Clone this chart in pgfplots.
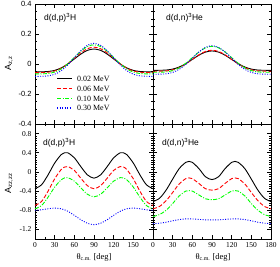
\documentclass[border=0pt]{standalone}
\usepackage{fontspec}
\setmainfont{Liberation Serif}
\setsansfont{Liberation Sans}
\usepackage{pgfplots}
\usepackage{pgfplotstable}
\pgfplotsset{compat=1.18}

\pgfplotstableread{
th k r g b
0 -0.052 -0.057 -0.066 -0.082
10 -0.0519 -0.0568 -0.0658 -0.0818
20 -0.0499 -0.0547 -0.0633 -0.0790
30 -0.0425 -0.0464 -0.0539 -0.0683
40 -0.0261 -0.0282 -0.0329 -0.0444
50 0.0004 0.0012 0.0008 -0.0062
60 0.0335 0.0381 0.0431 0.0418
70 0.0665 0.0748 0.0853 0.0895
80 0.0910 0.1020 0.1165 0.1249
90 0.100 0.112 0.128 0.138
100 0.0910 0.1020 0.1165 0.1249
110 0.0665 0.0748 0.0853 0.0895
120 0.0335 0.0381 0.0431 0.0418
130 0.0004 0.0012 0.0008 -0.0062
140 -0.0261 -0.0282 -0.0329 -0.0444
150 -0.0425 -0.0464 -0.0539 -0.0683
160 -0.0499 -0.0547 -0.0633 -0.0790
170 -0.0519 -0.0568 -0.0658 -0.0818
180 -0.052 -0.057 -0.066 -0.082
}\tabTL

\pgfplotstableread{
th k r g b
0 -0.042 -0.048 -0.055 -0.068
10 -0.0419 -0.0479 -0.0548 -0.0678
20 -0.0402 -0.0461 -0.0526 -0.0654
30 -0.0339 -0.0393 -0.0442 -0.0561
40 -0.0200 -0.0241 -0.0255 -0.0356
50 0.0024 0.0002 0.0046 -0.0026
60 0.0306 0.0308 0.0423 0.0389
70 0.0586 0.0612 0.0799 0.0801
80 0.0793 0.0837 0.1077 0.1107
90 0.087 0.092 0.118 0.122
100 0.0793 0.0837 0.1077 0.1107
110 0.0586 0.0612 0.0799 0.0801
120 0.0306 0.0308 0.0423 0.0389
130 0.0024 0.0002 0.0046 -0.0026
140 -0.0200 -0.0241 -0.0255 -0.0356
150 -0.0339 -0.0393 -0.0442 -0.0561
160 -0.0402 -0.0461 -0.0526 -0.0654
170 -0.0419 -0.0479 -0.0548 -0.0678
180 -0.042 -0.048 -0.055 -0.068
}\tabTR

\pgfplotstableread{
th k r g b
0 -0.35 -0.70 -0.77 -0.80
10 -0.2685 -0.6163 -0.7017 -0.7903
20 -0.0599 -0.4009 -0.5259 -0.769
30 0.185 -0.1438 -0.3175 -0.755
40 0.3616 0.0508 -0.1624 -0.7688
45 0.40 0.10 -0.125 -0.79
50 0.3998 0.1116 -0.119 -0.8208
60 0.295 0.0313 -0.1925 -0.905
70 0.1087 -0.1327 -0.3343 -0.9988
80 -0.0617 -0.2875 -0.4667 -1.0723
90 -0.13 -0.35 -0.52 -1.10
100 -0.0617 -0.2875 -0.4667 -1.0723
110 0.1087 -0.1327 -0.3343 -0.9988
120 0.295 0.0313 -0.1925 -0.905
130 0.3998 0.1116 -0.119 -0.8208
135 0.40 0.10 -0.125 -0.79
140 0.3616 0.0508 -0.1624 -0.7688
150 0.185 -0.1438 -0.3175 -0.755
160 -0.0599 -0.4009 -0.5259 -0.769
170 -0.2685 -0.6163 -0.7017 -0.7903
180 -0.35 -0.70 -0.77 -0.80
}\tabBL

\pgfplotstableread{
th k r g b
0 -0.62 -0.77 -0.93 -1.08
10 -0.55 -0.72 -0.89 -1.07
20 -0.38 -0.60 -0.80 -1.05
30 -0.15 -0.43 -0.66 -1.02
40 0.07 -0.25 -0.50 -0.995
50 0.20 -0.14 -0.40 -0.98
55 0.22 -0.125 -0.39 -0.98
60 0.20 -0.14 -0.40 -0.982
70 0.07 -0.24 -0.48 -0.99
80 -0.10 -0.35 -0.56 -1.0
90 -0.16 -0.38 -0.58 -1.0
100 -0.10 -0.35 -0.56 -1.0
110 0.07 -0.24 -0.48 -0.99
120 0.20 -0.14 -0.40 -0.982
125 0.22 -0.125 -0.39 -0.98
130 0.20 -0.14 -0.40 -0.98
140 0.07 -0.25 -0.50 -0.995
150 -0.15 -0.43 -0.66 -1.02
160 -0.38 -0.60 -0.80 -1.05
170 -0.55 -0.72 -0.89 -1.07
180 -0.62 -0.77 -0.93 -1.08
}\tabBR

\tikzset{
  lk/.style={black, line width=0.9bp},
  lr/.style={red, line width=0.9bp, dash pattern=on 4bp off 2bp},
  lg/.style={green, line width=0.9bp, dash pattern=on 4bp off 1.5bp on 1bp off 1.5bp},
  lb/.style={blue, line width=0.9bp, dash pattern=on 1bp off 1.5bp},
}

\pgfplotsset{
  panel/.style={
    scale only axis, width=118bp, anchor=south west,
    xmin=0, xmax=180, xtick={0,30,...,180}, minor x tick num=1,
    tick align=inside, xtick pos=both, ytick pos=both,
    major tick length=4bp, minor tick length=2bp,
    axis line style={line width=0.8bp},
    every tick/.style={black, line width=0.6bp},
    tick label style={font=\fontsize{7.5}{8}\selectfont},
    /pgf/number format/assume math mode=true,
    /pgf/number format/fixed,
  },
  toprow/.style={height=120bp, ymin=-0.4, ymax=0.4, ytick={-0.4,-0.2,...,0.4}, minor y tick num=3, xticklabels=\empty,
    yticklabel style={font=\sffamily\fontsize{7.5}{8}\selectfont}},
  botrow/.style={height=115bp, ymin=-1.4, ymax=1.0, ytick={-1.2,-0.8,...,0.8}, minor y tick num=7},
  sk/.style={lk, smooth},
  sr/.style={lr, smooth},
  sg/.style={lg, smooth},
  sb/.style={lb, smooth},
}

\begin{document}
\begin{tikzpicture}
\path[use as bounding box] (0,0) rectangle (280bp,267bp);

% top-left
\begin{axis}[panel, toprow, at={(35bp,143bp)}]
\addplot[sk] table[x=th,y=k] {\tabTL};
\addplot[sr] table[x=th,y=r] {\tabTL};
\addplot[sg] table[x=th,y=g] {\tabTL};
\addplot[sb] table[x=th,y=b] {\tabTL};
% legend samples
\addplot[lk, line width=1.1bp] coordinates {(33.6,-0.0967) (56.4,-0.0967)};
\addplot[lr, line width=1.1bp] coordinates {(33.6,-0.1633) (56.4,-0.1633)};
\addplot[lg, line width=1.1bp] coordinates {(33.6,-0.2300) (56.4,-0.2300)};
\addplot[lb, line width=1.1bp] coordinates {(33.6,-0.2933) (56.4,-0.2933)};
\end{axis}

% top-right
\begin{axis}[panel, toprow, at={(153bp,143bp)}, yticklabels=\empty]
\addplot[sk] table[x=th,y=k] {\tabTR};
\addplot[sr] table[x=th,y=r] {\tabTR};
\addplot[sg] table[x=th,y=g] {\tabTR};
\addplot[sb] table[x=th,y=b] {\tabTR};
\end{axis}

% bottom-left
\begin{axis}[panel, botrow, at={(35bp,28bp)}, xticklabels={0,30,60,90,120,150,{}}]
\addplot[sk] table[x=th,y=k] {\tabBL};
\addplot[sr] table[x=th,y=r] {\tabBL};
\addplot[sg] table[x=th,y=g] {\tabBL};
\addplot[sb] table[x=th,y=b] {\tabBL};
\end{axis}

% bottom-right
\begin{axis}[panel, botrow, at={(153bp,28bp)}, yticklabels=\empty]
\addplot[sk] table[x=th,y=k] {\tabBR};
\addplot[sr] table[x=th,y=r] {\tabBR};
\addplot[sg] table[x=th,y=g] {\tabBR};
\addplot[sb] table[x=th,y=b] {\tabBR};
\end{axis}

% legend texts
\begin{scope}[every node/.style={anchor=base west, font=\fontsize{8}{9}\selectfont, inner sep=0}]
\node at (77bp,185.2bp) {0.02 MeV};
\node at (77bp,175.2bp) {0.06 MeV};
\node at (77bp,165.2bp) {0.10 MeV};
\node at (77bp,156.2bp) {0.30 MeV};
\end{scope}

% annotations
\node[anchor=west, font=\sffamily\fontsize{8.5}{9}\selectfont, inner sep=0] at (44bp,249bp) {d(d,p)\textsuperscript{3}H};
\node[anchor=west, font=\sffamily\fontsize{8.5}{9}\selectfont, inner sep=0] at (166bp,249bp) {d(d,n)\textsuperscript{3}He};
\node[anchor=west, font=\sffamily\fontsize{8.5}{9}\selectfont, inner sep=0] at (43bp,124bp) {d(d,p)\textsuperscript{3}H};
\node[anchor=west, font=\sffamily\fontsize{8.5}{9}\selectfont, inner sep=0] at (162bp,124bp) {d(d,n)\textsuperscript{3}He};

% y labels
\node[rotate=90, font=\sffamily\fontsize{9}{10}\selectfont, inner sep=0] at (9bp,204bp) {A\textsubscript{z,z}};
\node[rotate=90, font=\sffamily\fontsize{9}{10}\selectfont, inner sep=0] at (9bp,84bp) {A\textsubscript{zz,zz}};

% x labels
\node[font=\fontsize{8.5}{9}\selectfont, inner sep=0] at (94bp,10bp) {θ\textsubscript{c.m.} [deg]};
\node[font=\fontsize{8.5}{9}\selectfont, inner sep=0] at (213bp,10bp) {θ\textsubscript{c.m.} [deg]};
\end{tikzpicture}
\end{document}
